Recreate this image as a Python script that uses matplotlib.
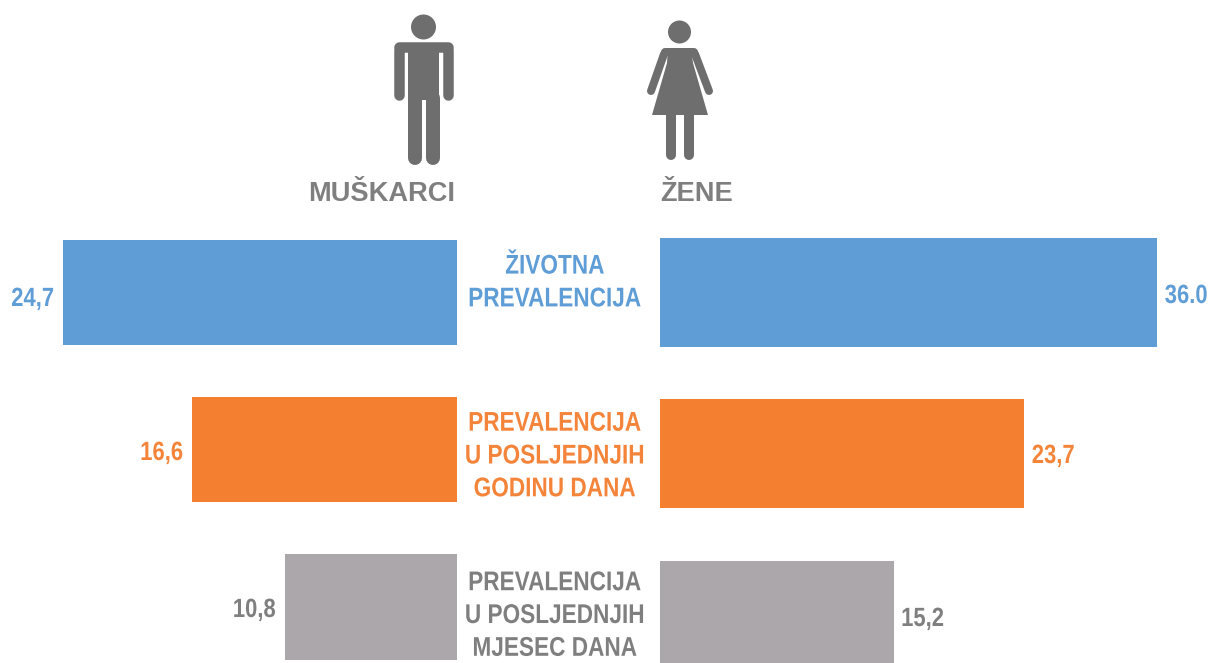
import matplotlib
matplotlib.use("Agg")
import matplotlib.pyplot as plt
from matplotlib.patches import Circle, Polygon
from matplotlib.patheffects import AbstractPathEffect
from matplotlib.transforms import Affine2D

# values printed on the chart
men_labels = ["24,7", "16,6", "10,8"]
women_labels = ["36.0", "23,7", "15,2"]
categories = ["ŽIVOTNA\nPREVALENCIJA", "PREVALENCIJA\nU POSLJEDNJIH\nGODINU DANA", "PREVALENCIJA\nU POSLJEDNJIH\nMJESEC DANA"]

# bar lengths as drawn (the 36.0 bar is drawn shorter than its label says)
men_values = [24.7, 16.6, 10.8]
women_values = [32.35, 23.7, 15.2]

# vertical layout in pixels, top and bottom of every bar
men_top = [240, 397, 554]
men_bottom = [345, 502, 660]
women_top = [238, 399, 561]
women_bottom = [347, 508, 663]
label_y = [299, 453, 610]
women_label_y = [296, 456, 619]
cat_y = [283, 456.5, 616]

bar_colors = ["#5F9DD6", "#F47F30", "#ABA7AA"]
text_colors = ["#5F9DD6", "#F4843A", "#7F7F7F"]
W, H = 1210, 663
FONT = "Liberation Sans"
SQUEEZE = 0.835


class Condense(AbstractPathEffect):
    # the reference uses a narrow Arial, no such font here so squeeze the glyphs
    def __init__(self, anchor_x, factor=SQUEEZE):
        super().__init__()
        self.anchor_x = anchor_x
        self.factor = factor

    def draw_path(self, renderer, gc, tpath, affine, rgbFace=None):
        squeeze = Affine2D().translate(-self.anchor_x, 0).scale(self.factor, 1).translate(self.anchor_x, 0)
        renderer.draw_path(gc, tpath, affine + squeeze, rgbFace)


fig = plt.figure(figsize=(W / 100, H / 100), dpi=100, facecolor="white")

# left half, men, growing to the left
ax_m = fig.add_axes([0, 0, 457 / W, 1])
ax_m.set_xlim(457 / 15.95, 0)
ax_m.set_ylim(H, 0)
for i in range(3):
    ax_m.barh((men_top[i] + men_bottom[i]) / 2, men_values[i], height=men_bottom[i] - men_top[i], color=bar_colors[i])
    edge = ax_m.transData.transform((men_values[i], 0))[0] - 9
    ax_m.annotate(men_labels[i], (men_values[i], label_y[i]), xytext=(-6.5, 0), textcoords="offset points",
                  ha="right", va="center", color=text_colors[i], fontsize=19, fontweight="bold", family=FONT,
                  path_effects=[Condense(edge)])
ax_m.axis("off")

# right half, women
ax_w = fig.add_axes([660 / W, 0, 550 / W, 1])
ax_w.set_xlim(0, 550 / 15.37)
ax_w.set_ylim(H, 0)
for i in range(3):
    ax_w.barh((women_top[i] + women_bottom[i]) / 2, women_values[i], height=women_bottom[i] - women_top[i], color=bar_colors[i])
    edge = ax_w.transData.transform((women_values[i], 0))[0] + 7.5
    ax_w.annotate(women_labels[i], (women_values[i], women_label_y[i]), xytext=(5.4, 0), textcoords="offset points",
                  ha="left", va="center", color=text_colors[i], fontsize=19, fontweight="bold", family=FONT,
                  path_effects=[Condense(edge)])
ax_w.axis("off")

# overlay in pixel coordinates for the titles and the two figures
ov = fig.add_axes([0, 0, 1, 1])
ov.set_xlim(0, W)
ov.set_ylim(H, 0)
ov.axis("off")
ov.patch.set_alpha(0)

for i in range(3):
    ov.text(555, cat_y[i], categories[i], ha="center", va="center", color=text_colors[i],
            fontsize=19.5, fontweight="bold", family=FONT, linespacing=1.34,
            path_effects=[Condense(555)])

ov.text(455, 194, "MUŠKARCI", ha="right", va="center", color="#7F7F7F", fontsize=19.6, fontweight="bold", family=FONT)
ov.text(660, 194, "ŽENE", ha="left", va="center", color="#7F7F7F", fontsize=19.6, fontweight="bold", family=FONT)

icon = "#6E6E6E"


def stroke(xs, ys, width):
    ov.plot(xs, ys, color=icon, lw=width * 0.72, solid_capstyle="round", solid_joinstyle="round")


# man
ov.add_patch(Circle((423.5, 27), 12.5, color=icon, lw=0))
stroke([399, 399], [50, 95], 10.5)
stroke([448, 448], [50, 95], 10.5)
stroke([399, 448], [47, 47], 10.5)
ov.add_patch(Polygon([(408, 44), (439, 44), (439, 100), (408, 100)], color=icon, lw=0))
stroke([415, 415], [98, 158], 14)
stroke([432.5, 432.5], [98, 158], 14)

# woman
ov.add_patch(Circle((679.5, 32), 11.5, color=icon, lw=0))
ov.add_patch(Polygon([(668, 48), (691, 48), (693, 63), (708, 115), (652, 115), (667, 63)], color=icon, lw=0))
stroke([664, 651], [54, 91], 8)
stroke([695, 709], [54, 91], 8)
stroke([665, 694], [52, 52], 8)
stroke([671, 671], [112, 155], 10)
stroke([689, 689], [112, 155], 10)

fig.savefig("out.png", dpi=100)
